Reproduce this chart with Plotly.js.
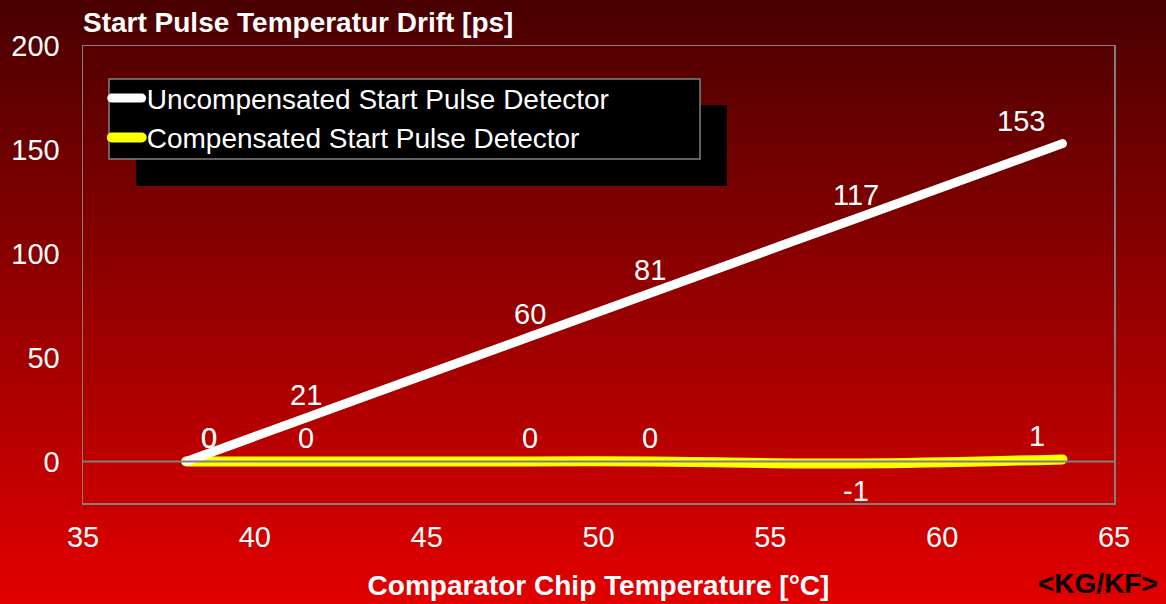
<!DOCTYPE html>
<html><head><meta charset="utf-8">
<script src="https://cdn.plot.ly/plotly-3.0.1.min.js"></script>
<style>
html,body{margin:0;padding:0;background:#480000;}
#chart{width:1166px;height:604px;background:linear-gradient(to bottom,#480000 0%,#e20000 100%);}
#chart .scatterlayer .js-line, #chart .legendlines path{stroke-linecap:round !important;}
</style></head><body><div id="chart"></div>
<script>
// ---- data ----
const temps = [38, 41.5, 48, 51.5, 57.5, 63.5];
const uncompensated = [0, 21, 60, 81, 117, 153];
const compensated = [0, 0, 0, 0, -1, 1];
const seriesNames = ['Uncompensated Start Pulse Detector', 'Compensated Start Pulse Detector'];
const xTicks = [35, 40, 45, 50, 55, 60, 65];
const yTicks = [0, 50, 100, 150, 200];

// ---- label placement (pixels) ----
const uncompLabelShiftX = [23, 0, 0, 0, 0, -41];
const compLabelShiftX = [23, 0, 0, 0, 0, -25];
const compLabelBelow = [false, false, false, false, true, false];

const FONT = 'Liberation Sans, Arial, Helvetica, sans-serif';

const traces = [
  {x: temps, y: compensated, name: seriesNames[1], type: 'scatter', mode: 'lines',
   line: {color: '#ffff00', width: 10, shape: 'spline', smoothing: 1}, legendrank: 2},
  {x: temps, y: uncompensated, name: seriesNames[0], type: 'scatter', mode: 'lines',
   line: {color: '#ffffff', width: 9, shape: 'spline', smoothing: 1}, legendrank: 1}
];

const labelFont = {family: FONT, size: 29, color: '#ffffff'};
const annotations = [];
temps.forEach((t, i) => {
  annotations.push({x: t, y: uncompensated[i], xref: 'x', yref: 'y', text: String(uncompensated[i]),
    showarrow: false, xshift: uncompLabelShiftX[i], yshift: 23, font: labelFont});
  annotations.push({x: t, y: compensated[i], xref: 'x', yref: 'y', text: String(compensated[i]),
    showarrow: false, xshift: compLabelShiftX[i], yshift: compLabelBelow[i] ? -27 : 23, font: labelFont});
});
annotations.push({x: 1.0446, y: -0.177, xref: 'paper', yref: 'paper', xanchor: 'right', yanchor: 'middle',
  text: '&lt;KG/KF&gt;', showarrow: false, font: {family: FONT, size: 28, color: '#000000', weight: 'bold'}});

const layout = {
  width: 1166, height: 604,
  margin: {l: 83, r: 52, t: 46, b: 101, pad: 0},
  paper_bgcolor: 'rgba(0,0,0,0)', plot_bgcolor: 'rgba(0,0,0,0)',
  font: {family: FONT, color: '#ffffff'},
  title: {text: 'Start Pulse Temperatur Drift [ps]', x: 83/1166, xanchor: 'left', xref: 'container',
    y: 1 - 22/604, yanchor: 'middle', yref: 'container',
    font: {family: FONT, size: 28, color: '#ffffff', weight: 'bold'}},
  xaxis: {range: [35, 65], tickvals: xTicks, showline: true, mirror: true, linecolor: '#808080', linewidth: 1.5,
    showgrid: false, zeroline: false, ticks: '', ticklabelstandoff: 8,
    tickfont: {family: FONT, size: 29, color: '#ffffff'},
    title: {text: 'Comparator Chip Temperature [°C]', standoff: 23,
      font: {family: FONT, size: 28, color: '#ffffff', weight: 'bold'}}},
  yaxis: {range: [-20, 200], tickvals: yTicks, showline: true, mirror: true, linecolor: '#808080', linewidth: 1.5,
    showgrid: false, zeroline: false, ticks: '', ticklabelstandoff: 16,
    tickfont: {family: FONT, size: 29, color: '#ffffff'}},
  showlegend: true,
  legend: {x: 0.023, y: 0.94, xanchor: 'left', yanchor: 'top', bgcolor: 'rgba(0,0,0,0)', borderwidth: 0,
    font: {family: FONT, size: 28, color: '#ffffff'}, traceorder: 'normal'},
  shapes: [
    {type: 'rect', xref: 'paper', yref: 'paper', x0: 0.0514, x1: 0.6246, y0: 0.6937, y1: 0.8709,
     fillcolor: '#000000', line: {width: 0}, layer: 'below'},
    {type: 'rect', xref: 'paper', yref: 'paper', x0: 0.0252, x1: 0.5985, y0: 0.7527, y1: 0.9278,
     fillcolor: '#000000', line: {color: '#808080', width: 1.5}, layer: 'below'},
    {type: 'line', xref: 'paper', yref: 'y', x0: 0, x1: 1, y0: 0, y1: 0,
     line: {color: '#808080', width: 2}, layer: 'above'}
  ],
  annotations: annotations
};

Plotly.newPlot('chart', traces, layout, {displayModeBar: false, staticPlot: true});
</script></body></html>
